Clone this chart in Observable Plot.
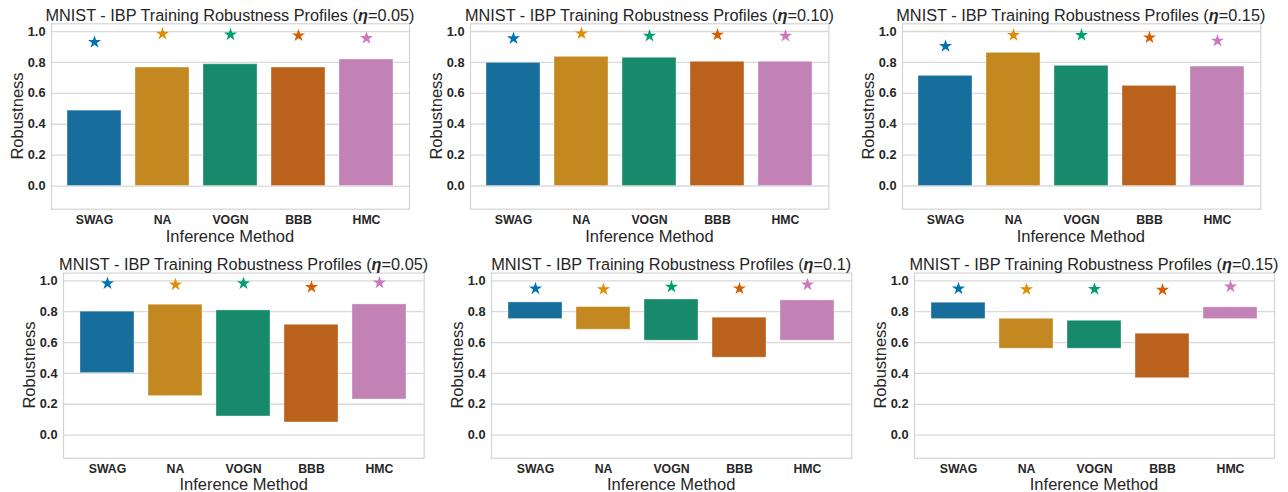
<!DOCTYPE html>
<html>
<head>
<meta charset="utf-8">
<script src="https://cdn.jsdelivr.net/npm/d3@7"></script>
<script src="https://cdn.jsdelivr.net/npm/@observablehq/plot@0.6"></script>
<style>
  html, body { margin: 0; padding: 0; background: #fff; }
  #root { position: relative; width: 1288px; height: 492px; overflow: hidden; font-family: "Liberation Sans", Arial, sans-serif; color: #262626; }
  .abs { position: absolute; white-space: nowrap; }
  .title { font-size: 16.3px; transform: translate(-50%, -50%); }
  .xlab { font-size: 16.5px; transform: translate(-50%, -50%); }
  .ylab { font-size: 16.5px; transform: translate(-50%, -50%) rotate(-90deg); }
  svg { position: absolute; overflow: visible; }
</style>
</head>
<body>
<div id="root"></div>
<script>
// ---- data ----
const methods = ["SWAG", "NA", "VOGN", "BBB", "HMC"];
const topEtas = ["0.05", "0.10", "0.15"];
const bottomEtas = ["0.05", "0.1", "0.15"];
const yTicks = [0, 0.2, 0.4, 0.6, 0.8, 1.0];

// top row: bars from 0
const top05 = [0.488, 0.767, 0.788, 0.767, 0.819];
const top05Star = [0.931, 0.985, 0.980, 0.974, 0.957];
const top10 = [0.797, 0.836, 0.830, 0.804, 0.804];
const top10Star = [0.955, 0.987, 0.972, 0.979, 0.972];
const top15 = [0.713, 0.862, 0.778, 0.648, 0.773];
const top15Star = [0.905, 0.976, 0.976, 0.961, 0.940];

// bottom row: floating bars (low..high)
const bot05Low = [0.402, 0.253, 0.121, 0.082, 0.231];
const bot05High = [0.800, 0.845, 0.808, 0.715, 0.847];
const bot05Star = [0.983, 0.975, 0.983, 0.959, 0.988];
const bot10Low = [0.752, 0.683, 0.612, 0.502, 0.612];
const bot10High = [0.860, 0.830, 0.879, 0.761, 0.873];
const bot10Star = [0.949, 0.944, 0.961, 0.950, 0.975];
const bot15Low = [0.752, 0.560, 0.560, 0.369, 0.752];
const bot15High = [0.858, 0.754, 0.741, 0.657, 0.828];
const bot15Star = [0.949, 0.944, 0.946, 0.941, 0.962];

// palette (seaborn colorblind; bars desaturated)
const starColors = ["#0173b2", "#de8f05", "#029e73", "#d55e00", "#cc78bc"];
const barColors = ["#176d9c", "#c38820", "#168a6a", "#ba611b", "#c282b6"];

const root = document.getElementById("root");

function addText(cls, html, x, y) {
  const d = document.createElement("div");
  d.className = "abs " + cls;
  d.innerHTML = html;
  d.style.left = x + "px";
  d.style.top = y + "px";
  root.appendChild(d);
}

function panel(cfg) {
  const {rowTop, rowH, fL, fR, fT, fB, eta, low, high, star, titleY, xlabY} = cfg;
  const rows = methods.map((m, i) => ({
    method: m, low: low ? low[i] : 0, high: high[i], star: star[i],
    barFill: barColors[i], starFill: starColors[i]
  }));
  const mL = 51, mR = 8;
  const width = (fR - fL) + mL + mR;
  const svg = Plot.plot({
    width, height: rowH,
    marginLeft: mL, marginRight: mR,
    marginTop: fT - rowTop, marginBottom: rowTop + rowH - fB,
    style: {fontFamily: "'Liberation Sans', Arial, sans-serif", background: "transparent", overflow: "visible"},
    x: {domain: methods, paddingInner: 0.2, paddingOuter: 0.23, label: null},
    y: {domain: [-0.15, 1.05], label: null},
    color: {type: "identity"},
    marks: [
      Plot.gridY(yTicks, {stroke: "#d9d9d9", strokeOpacity: 1, strokeWidth: 1.3}),
      Plot.barY(rows, {x: "method", y1: "low", y2: "high", fill: "barFill", stroke: "#ffffff", strokeOpacity: 0.35, strokeWidth: 1, inset: 0}),
      Plot.dot(rows, {x: "method", y: "star", symbol: "star", r: 4.1, fill: "starFill", stroke: "none"}),
      Plot.frame({stroke: "#d4d4d4", strokeWidth: 1.2}),
      Plot.axisX({tickSize: 0, tickPadding: 6, fontSize: 12.3, fontWeight: "bold", label: null, fill: "#262626"}),
      Plot.axisY({ticks: yTicks, tickFormat: d3.format(".1f"), tickSize: 0, tickPadding: 6, fontSize: 12.8, fontWeight: "bold", label: null, fill: "#262626"})
    ]
  });
  svg.style.left = (fL - mL) + "px";
  svg.style.top = rowTop + "px";
  root.appendChild(svg);
  const cx = (fL + fR) / 2;
  addText("title", `MNIST - IBP Training Robustness Profiles (<b><i>η</i></b>=${eta})`, cx, titleY);
  addText("xlab", "Inference Method", cx, xlabY);
  addText("ylab", "Robustness", fL - 34, (fT + fB) / 2);
}

// top row
const topFrames = [[51, 409], [470.3, 828.7], [901.7, 1260]];
const topData = [[top05, top05Star], [top10, top10Star], [top15, top15Star]];
topFrames.forEach(([fL, fR], k) => {
  panel({rowTop: 0, rowH: 245, fL, fR, fT: 23.3, fB: 208.7, eta: topEtas[k],
         low: null, high: topData[k][0], star: topData[k][1], titleY: 14.5, xlabY: 235.5});
});

// bottom row
const botFrames = [[63.3, 424], [491, 851.3], [914, 1274]];
const botData = [[bot05Low, bot05High, bot05Star], [bot10Low, bot10High, bot10Star], [bot15Low, bot15High, bot15Star]];
botFrames.forEach(([fL, fR], k) => {
  panel({rowTop: 245, rowH: 247, fL, fR, fT: 272.6, fB: 457.8, eta: bottomEtas[k],
         low: botData[k][0], high: botData[k][1], star: botData[k][2], titleY: 263.5, xlabY: 484});
});
</script>
</body>
</html>
